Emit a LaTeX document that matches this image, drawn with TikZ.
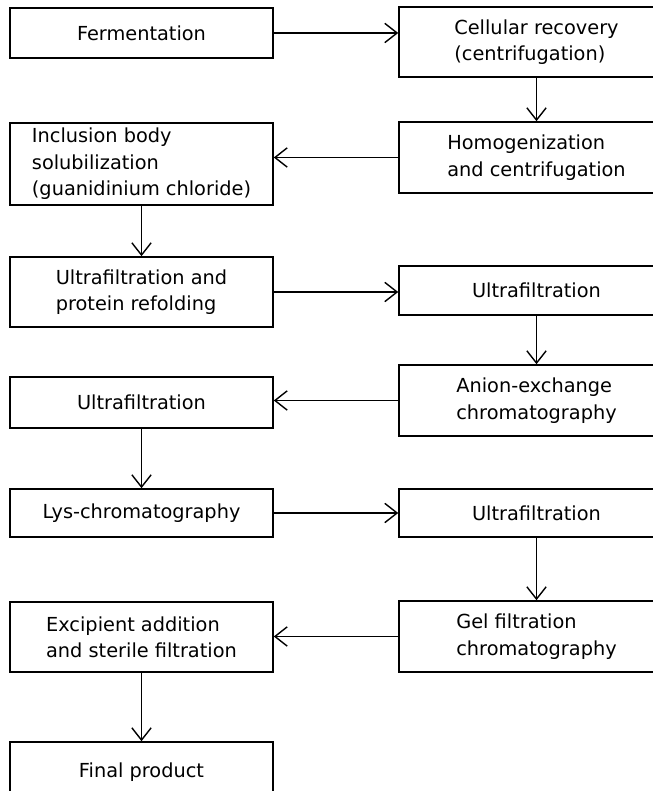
\documentclass[tikz,border=0pt]{standalone}
\usepackage{fontspec}
\setmainfont{DejaVu Sans}
\usepackage{tikz}
\usetikzlibrary{arrows.meta, positioning}

\begin{document}
\begin{tikzpicture}[
    every node/.style={font=\fontsize{11}{15}\selectfont, align=left},
    box/.style={draw, line width=0.9pt, minimum width=5.26cm, inner sep=2pt},
    rbox/.style={box, minimum width=5.5cm},
    arr/.style={-{Straight Barb[length=7pt, width=11pt]}, line width=0.8pt}
]
\useasboundingbox (0,0) rectangle (13.06,15.82);
\clip (0,0) rectangle (13.06,15.82);
% left column
\node[box, minimum height=1.0cm] (ferm) at (2.83,15.16) {Fermentation};
\node[box, minimum height=1.64cm] (incl) at (2.83,12.54) {Inclusion body\\solubilization\\(guanidinium chloride)};
\node[box, minimum height=1.4cm] (ufpr) at (2.83,9.98) {Ultrafiltration and\\protein refolding};
\node[box, minimum height=1.02cm] (ufa) at (2.83,7.77) {Ultrafiltration};
\node[box, minimum height=0.96cm] (lys) at (2.83,5.56) {Lys-chromatography};
\node[box, minimum height=1.4cm] (excip) at (2.83,3.08) {Excipient addition\\and sterile filtration};
\node[box, minimum height=1.2cm] (final) at (2.83,0.38) {Final product};
% right column
\node[rbox, minimum height=1.4cm] (cell) at (10.73,14.98) {Cellular recovery\\(centrifugation)};
\node[rbox, minimum height=1.42cm] (homog) at (10.73,12.67) {Homogenization\\and centrifugation};
\node[rbox, minimum height=0.98cm] (ufb) at (10.73,10.01) {Ultrafiltration};
\node[rbox, minimum height=1.42cm] (anion) at (10.73,7.81) {Anion-exchange\\chromatography};
\node[rbox, minimum height=0.96cm] (ufc) at (10.73,5.56) {Ultrafiltration};
\node[rbox, minimum height=1.42cm] (gel) at (10.73,3.09) {Gel filtration\\chromatography};
% connectors
\draw[arr] (ferm.east) -- (ferm.east -| cell.west);
\draw[arr] (cell) -- (homog);
\draw[arr] (homog.west) -- (homog.west -| incl.east);
\draw[arr] (incl) -- (ufpr);
\draw[arr] (ufpr.east) -- (ufpr.east -| ufb.west);
\draw[arr] (ufb) -- (anion);
\draw[arr] (anion.west) -- (anion.west -| ufa.east);
\draw[arr] (ufa) -- (lys);
\draw[arr] (lys) -- (ufc);
\draw[arr] (ufc) -- (gel);
\draw[arr] (gel.west) -- (gel.west -| excip.east);
\draw[arr] (excip) -- (final);
\end{tikzpicture}
\end{document}
